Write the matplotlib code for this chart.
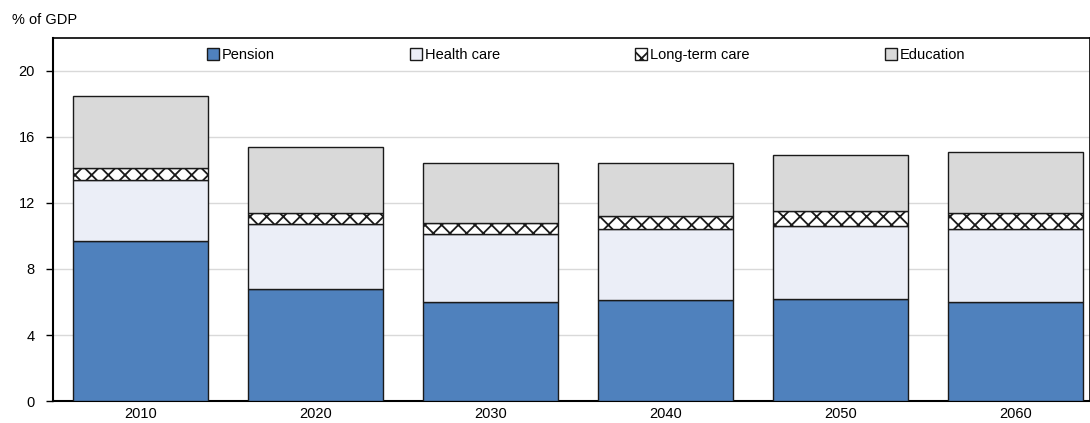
import matplotlib
matplotlib.use("Agg")
import matplotlib.pyplot as plt
import numpy as np

plt.rcParams['font.family'] = ['Liberation Sans', 'DejaVu Sans']
plt.rcParams['hatch.linewidth'] = 1.3
plt.rcParams['hatch.color'] = '#404040'

years = ['2010', '2020', '2030', '2040', '2050', '2060']
pension = [9.7, 6.8, 6.0, 6.1, 6.2, 6.0]
health = [3.7, 3.9, 4.1, 4.3, 4.4, 4.4]
ltc = [0.7, 0.7, 0.7, 0.8, 0.9, 1.0]
education = [4.4, 4.0, 3.6, 3.2, 3.4, 3.7]
series_names = ['Pension', 'Health care', 'Long-term care', 'Education']
yticks = [0, 4, 8, 12, 16, 20]

W, H = 1090, 423
fig = plt.figure(figsize=(W / 100, H / 100), dpi=100)
ax = fig.add_axes([53 / W, 1 - 401 / H, (1090 - 53) / W, (401 - 38) / H])

x = np.arange(len(years))
bw = 0.77
bottom = np.zeros(len(years))
styles = [
    dict(color='#4F81BD', hatch=None),
    dict(color='#EBEEF7', hatch=None),
    dict(color='white', hatch='xx'),
    dict(color='#D9D9D9', hatch=None),
]
handles = []
for vals, name, st in zip([pension, health, ltc, education], series_names, styles):
    vals = np.array(vals)
    b = ax.bar(x, vals, bw, bottom=bottom, color=st['color'], edgecolor='#1a1a1a',
               linewidth=1.0, hatch=st['hatch'], label=name, zorder=3)
    handles.append(b)
    bottom += vals

ax.set_xlim(-0.5, (1090 - 140.5) / 175.0)
ax.set_ylim(0, 22)
ax.set_yticks(yticks)
ax.set_yticklabels([str(t) for t in yticks], fontsize=10.5)
ax.set_xticks(x)
ax.set_xticklabels(years, fontsize=10.5)
ax.tick_params(axis='x', length=0, pad=4)
ax.tick_params(axis='y', length=5, width=1, direction='out', pad=8, color='black')
ax.yaxis.grid(True, color='#D9D9D9', linewidth=1.0, zorder=0)
ax.set_axisbelow(True)
for s in ['left', 'bottom']:
    ax.spines[s].set_linewidth(1.5)
for s in ['top', 'right']:
    ax.spines[s].set_linewidth(1.2)

fig.text(12 / W, 1 - 20 / H, '% of GDP', fontsize=10.5, ha='left', va='center')

fig.legend(handles=handles, labels=series_names, loc='center',
           bbox_to_anchor=(586 / W, 1 - 55 / H), ncol=4, frameon=False,
           fontsize=10.5, handlelength=0.8, handleheight=0.8, handletextpad=0.2,
           columnspacing=9.3, borderpad=0)

fig.savefig('out.png', dpi=100)
